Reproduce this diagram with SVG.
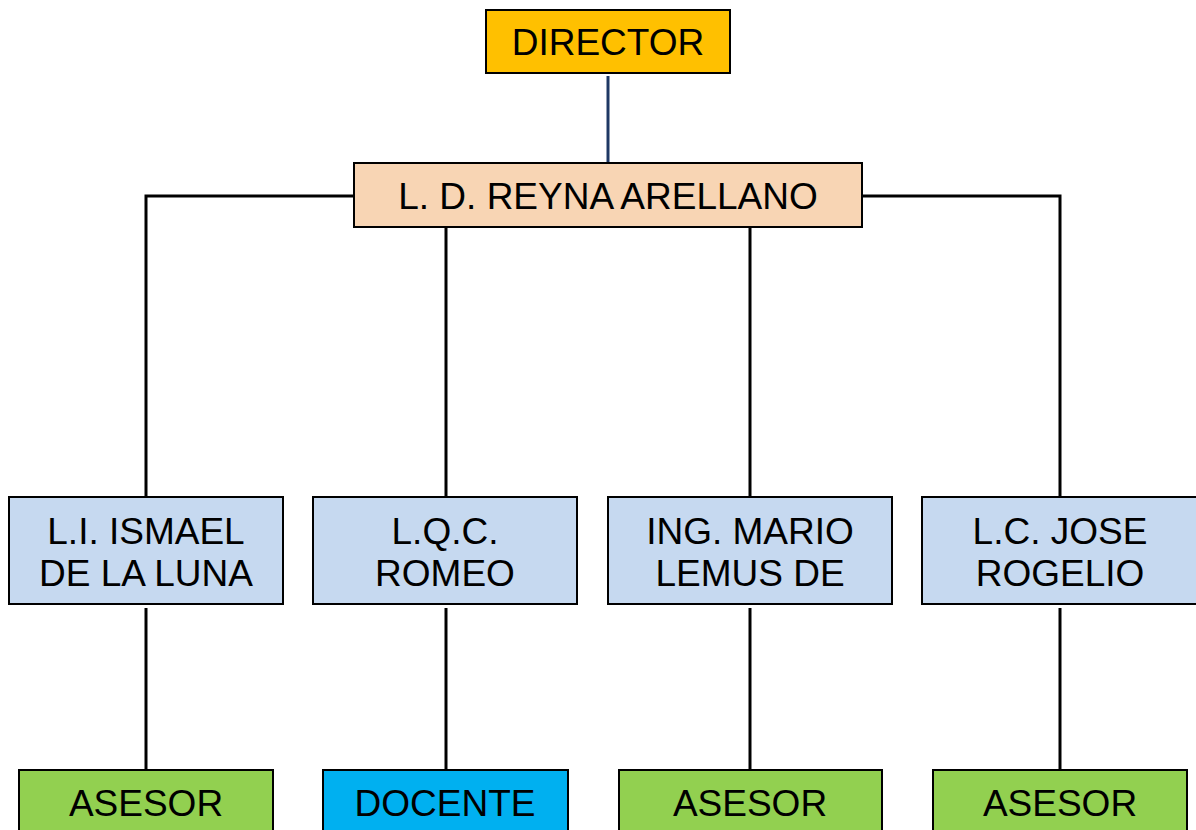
<svg xmlns="http://www.w3.org/2000/svg" width="1196" height="830" viewBox="0 0 1196 830">
<style>
.box{stroke:#000;stroke-width:2}
.t{font-family:"Liberation Sans",Arial,sans-serif;font-size:37px;fill:#000;text-anchor:middle}
.ln{fill:none;stroke:#000;stroke-width:3}
</style>
<rect width="1196" height="830" fill="#fff"/>
<g id="connectors">
<line x1="608" y1="76" x2="608" y2="163" stroke="#1F3864" stroke-width="3"/>
<polyline class="ln" points="354,196 146,196 146,497"/>
<polyline class="ln" points="862,196 1060,196 1060,497" stroke="#262626"/>
<line class="ln" x1="446" y1="227" x2="446" y2="497"/>
<line class="ln" x1="750" y1="227" x2="750" y2="497"/>
<line class="ln" x1="146" y1="608" x2="146" y2="770"/>
<line class="ln" x1="446" y1="608" x2="446" y2="770"/>
<line class="ln" x1="750" y1="608" x2="750" y2="770"/>
<line class="ln" x1="1060" y1="608" x2="1060" y2="770"/>
</g>
<g id="director">
<rect class="box" x="486" y="10" width="244" height="63" fill="#FFC000"/>
<text class="t" x="608" y="55">DIRECTOR</text>
</g>
<g id="reyna">
<rect class="box" x="354" y="163" width="508" height="64" fill="#F8D5B4"/>
<text class="t" x="608" y="209">L. D. REYNA ARELLANO</text>
</g>
<g id="ismael">
<rect class="box" x="9" y="497" width="274" height="107" fill="#C6D9F0"/>
<text class="t" x="146" y="544">L.I. ISMAEL</text>
<text class="t" x="146" y="586">DE LA LUNA</text>
</g>
<g id="romeo">
<rect class="box" x="313" y="497" width="264" height="107" fill="#C6D9F0"/>
<text class="t" x="445" y="544">L.Q.C.</text>
<text class="t" x="445" y="586">ROMEO</text>
</g>
<g id="mario">
<rect class="box" x="608" y="497" width="284" height="107" fill="#C6D9F0"/>
<text class="t" x="750" y="544">ING. MARIO</text>
<text class="t" x="750" y="586">LEMUS DE</text>
</g>
<g id="jose">
<rect class="box" x="922" y="497" width="276" height="107" fill="#C6D9F0"/>
<text class="t" x="1060" y="544">L.C. JOSE</text>
<text class="t" x="1060" y="586">ROGELIO</text>
</g>
<g id="asesor1">
<rect class="box" x="19" y="770" width="254" height="70" fill="#92D050"/>
<text class="t" x="146" y="816">ASESOR</text>
</g>
<g id="docente">
<rect class="box" x="323" y="770" width="245" height="70" fill="#00B0F0"/>
<text class="t" x="445" y="816">DOCENTE</text>
</g>
<g id="asesor2">
<rect class="box" x="619" y="770" width="263" height="70" fill="#92D050"/>
<text class="t" x="750" y="816">ASESOR</text>
</g>
<g id="asesor3">
<rect class="box" x="933" y="770" width="254" height="70" fill="#92D050"/>
<text class="t" x="1060" y="816">ASESOR</text>
</g>
</svg>
